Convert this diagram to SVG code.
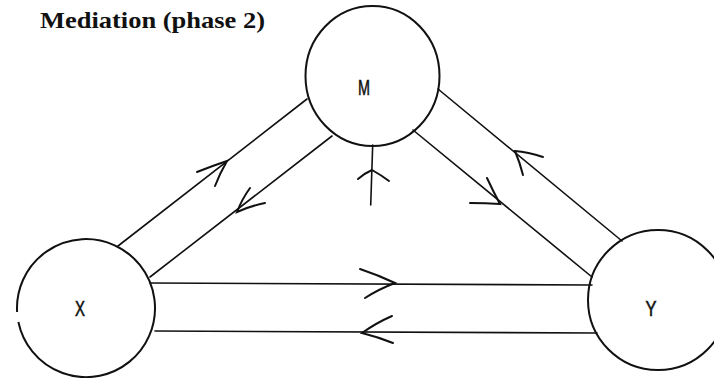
<svg xmlns="http://www.w3.org/2000/svg" width="714" height="378" viewBox="0 0 714 378">
<style>
.node{fill:none;stroke:#111;stroke-width:2}
.ln{fill:none;stroke:#111;stroke-width:1.6;stroke-linecap:round}
.ah{fill:none;stroke:#111;stroke-width:2;stroke-linecap:round;stroke-linejoin:miter}
.lbl{font-family:"Liberation Sans",Arial,sans-serif;font-size:22px;fill:#111;stroke:#111;stroke-width:0.6;text-anchor:middle}
.title{font-family:"Liberation Serif","Times New Roman",serif;font-size:23px;font-weight:bold;fill:#111}
</style>
<rect width="714" height="378" fill="#fff"/>
<text class="title" x="40" y="28" textLength="225" lengthAdjust="spacingAndGlyphs">Mediation (phase 2)</text>
<g id="connectors">
<line class="ln" x1="118" y1="246" x2="307" y2="99"/>
<line class="ln" x1="150" y1="277" x2="332" y2="136"/>
<line class="ln" x1="438" y1="89" x2="622" y2="241"/>
<line class="ln" x1="413" y1="130" x2="592" y2="277"/>
<line class="ln" x1="150" y1="283" x2="592" y2="285"/>
<line class="ln" x1="155" y1="331" x2="597" y2="333"/>
<line class="ln" x1="372.7" y1="145" x2="370.7" y2="205"/>
<path class="ah" d="M197,172 Q212,166 227,161 Q220,173 215,186"/>
<path class="ah" d="M250,188 Q242,199 237,212 Q250,206 265,203"/>
<path class="ah" d="M543,157 Q528,152 515,151 Q520,163 523,175"/>
<path class="ah" d="M470,203 Q486,203 500,204 Q493,191 487,178"/>
<path class="ah" d="M360,269 Q378,275 395,283 Q379,289 365,298"/>
<path class="ah" d="M392,316 Q376,323 362,333 Q378,337 393,343"/>
<path class="ah" d="M358,179 Q365,173 372,170 Q381,175 389,181"/>
</g>
<g id="node-M">
<ellipse class="node" cx="372.5" cy="76" rx="67" ry="70"/>
<text class="lbl" x="364" y="95" textLength="12" lengthAdjust="spacingAndGlyphs">M</text>
</g>
<g id="node-X">
<path class="node" d="M18.4,322 A69,69 0 1 0 17.1,312"/>
<text class="lbl" x="80" y="316" textLength="10" lengthAdjust="spacingAndGlyphs">X</text>
</g>
<g id="node-Y">
<circle class="node" cx="658" cy="300" r="70"/>
<text class="lbl" x="651" y="316" textLength="11" lengthAdjust="spacingAndGlyphs">Y</text>
</g>
</svg>
